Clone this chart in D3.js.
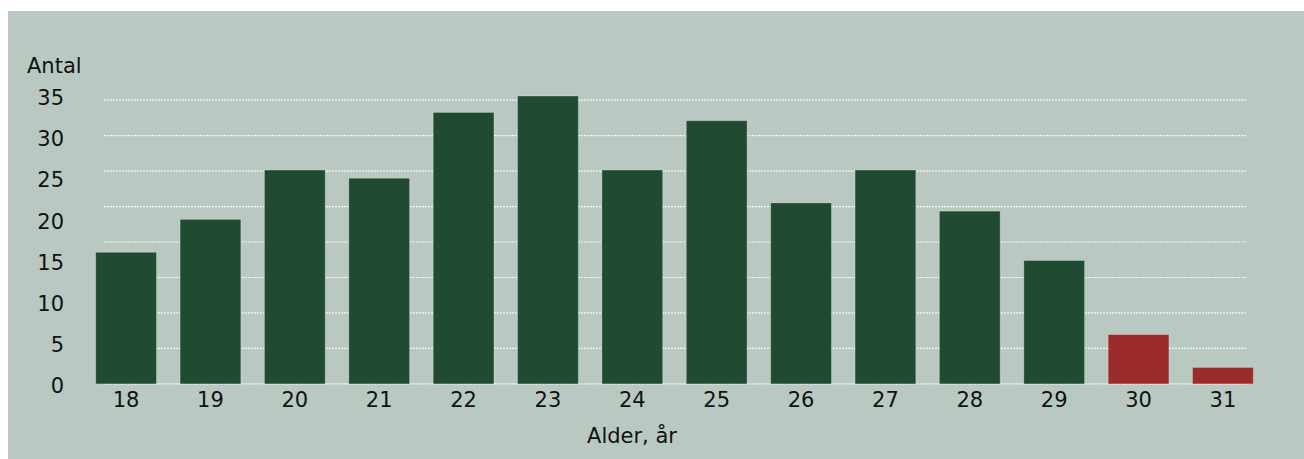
<!DOCTYPE html>
<html>
<head>
<meta charset="utf-8">
<script src="https://cdn.jsdelivr.net/npm/d3@7"></script>
<style>
  html, body { margin: 0; padding: 0; background: #ffffff; }
  svg { display: block; }
  text { font-family: "DejaVu Sans", Verdana, sans-serif; fill: #111; }
</style>
</head>
<body>
<svg id="chart" width="1304" height="459"></svg>
<script>
// Ages on the x axis and number of people per age
const ages = ["18", "19", "20", "21", "22", "23", "24", "25", "26", "27", "28", "29", "30", "31"];
const counts = [16, 20, 26, 25, 33, 35, 26, 32, 22, 26, 21, 15, 6, 2];
// Ages from 30 and up are highlighted
const highlightedAges = ["30", "31"];
const yTicks = [0, 5, 10, 15, 20, 25, 30, 35];
// Dotted grid lines: eight equal steps up to the grid top
const gridTop = 34.5;
const gridSteps = 8;
const yLabel = "Antal";
const xLabel = "Alder, år";

const fontSize = 21;
const svg = d3.select("#chart");

svg.append("rect")
  .attr("x", 8).attr("y", 11)
  .attr("width", 1296).attr("height", 448)
  .attr("fill", "#b9c9c2");

const x = d3.scaleBand()
  .domain(ages)
  .range([83.9, 1265.1])
  .paddingInner(0.28)
  .paddingOuter(0.14);

const y = d3.scaleLinear()
  .domain([0, 35])
  .range([383.9, 96]);

// grid
const gridValues = d3.range(gridSteps + 1).map(i => i * gridTop / gridSteps);
svg.append("g")
  .selectAll("line")
  .data(gridValues)
  .join("line")
  .attr("x1", 104).attr("x2", 1246)
  .attr("y1", d => y(d)).attr("y2", d => y(d))
  .attr("stroke", "#f4f7f5")
  .attr("stroke-width", 1.2)
  .attr("stroke-dasharray", "2,1");

// bars
svg.append("g")
  .selectAll("rect")
  .data(ages.map((a, i) => ({ age: a, value: counts[i] })))
  .join("rect")
  .attr("x", d => x(d.age))
  .attr("width", x.bandwidth())
  .attr("y", d => y(d.value))
  .attr("height", d => y(0) - y(d.value))
  .attr("fill", d => highlightedAges.includes(d.age) ? "#9c2b2b" : "#214a33")
  .attr("stroke", "rgba(255,255,255,0.25)")
  .attr("stroke-width", 1);

// y axis labels
const yAxis = d3.axisLeft(y).tickValues(yTicks).tickSize(0).tickPadding(0);
const gy = svg.append("g")
  .attr("transform", "translate(64,2)")
  .call(yAxis);
gy.select(".domain").remove();
gy.selectAll("text")
  .attr("font-size", fontSize)
  .attr("font-family", "DejaVu Sans, Verdana, sans-serif")
  .attr("fill", "#111");

// x axis labels
const xAxis = d3.axisBottom(x).tickSize(0).tickPadding(0);
const gx = svg.append("g")
  .attr("transform", "translate(0,392)")
  .call(xAxis);
gx.select(".domain").remove();
gx.selectAll("text")
  .attr("font-size", fontSize)
  .attr("font-family", "DejaVu Sans, Verdana, sans-serif")
  .attr("fill", "#111");

// axis titles
svg.append("text")
  .attr("x", 27).attr("y", 73)
  .attr("font-size", fontSize)
  .text(yLabel);

svg.append("text")
  .attr("x", 632).attr("y", 443)
  .attr("text-anchor", "middle")
  .attr("font-size", fontSize)
  .text(xLabel);
</script>
</body>
</html>
